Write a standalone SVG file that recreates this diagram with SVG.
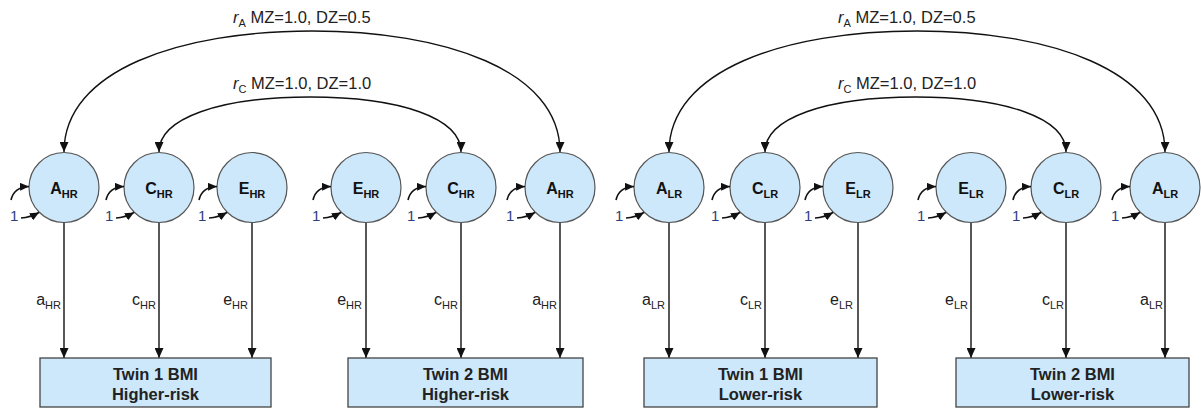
<svg xmlns="http://www.w3.org/2000/svg" width="1201" height="409" viewBox="0 0 1201 409">
<style>
.bg{fill:#ffffff}
.node{fill:#cce8fa;stroke:#555;stroke-width:1.2}
.box{fill:#cce8fa;stroke:#444;stroke-width:1.3}
.nl{font-family:"Liberation Sans",Arial,sans-serif;font-weight:bold;font-size:16px;fill:#111}
.ns{font-size:11px}
.bt{font-family:"Liberation Sans",Arial,sans-serif;font-weight:bold;font-size:16.5px;fill:#222;text-anchor:middle}
.pl{font-family:"Liberation Sans",Arial,sans-serif;font-size:16px;fill:#222;text-anchor:end}
.ps{font-size:11px}
.tl{font-family:"Liberation Sans",Arial,sans-serif;font-size:16.5px;fill:#222}
.one{font-family:"Liberation Sans",Arial,sans-serif;font-size:15px;fill:#2b3f80}
.ln{fill:none;stroke:#111;stroke-width:1.4}
.sa{fill:none;stroke:#111;stroke-width:1.6}
</style>
<defs>
<marker id="arr" markerUnits="userSpaceOnUse" markerWidth="10" markerHeight="9" refX="10" refY="4.5" orient="auto-start-reverse"><path d="M0,0 L10,4.5 L0,9 z" fill="#111"/></marker>
<marker id="sm" markerUnits="userSpaceOnUse" markerWidth="9" markerHeight="8" refX="9" refY="4" orient="auto"><path d="M0,0 L9,4 L0,8 z" fill="#111"/></marker>
</defs>
<rect class="bg" x="0" y="0" width="1201" height="409"/>

<g id="connectors">
<path class="ln" d="M64,152 C64,70 180,31 312,31 C444,31 560,70 560,152" marker-start="url(#arr)" marker-end="url(#arr)"/>
<path class="ln" d="M159,152 C159,118 220,97 310,97 C400,97 461,118 461,152" marker-start="url(#arr)" marker-end="url(#arr)"/>
<path class="ln" d="M669,152 C669,70 785,31 917,31 C1049,31 1165,70 1165,152" marker-start="url(#arr)" marker-end="url(#arr)"/>
<path class="ln" d="M765,152 C765,118 826,97 915.5,97 C1005,97 1066,118 1066,152" marker-start="url(#arr)" marker-end="url(#arr)"/>
<text class="tl" x="233" y="22.5"><tspan font-style="italic">r</tspan><tspan font-size="11px" dy="4">A</tspan><tspan dy="-4"> MZ=1.0, DZ=0.5</tspan></text>
<text class="tl" x="233" y="89"><tspan font-style="italic">r</tspan><tspan font-size="11px" dy="4">C</tspan><tspan dy="-4"> MZ=1.0, DZ=1.0</tspan></text>
<text class="tl" x="838" y="22.5"><tspan font-style="italic">r</tspan><tspan font-size="11px" dy="4">A</tspan><tspan dy="-4"> MZ=1.0, DZ=0.5</tspan></text>
<text class="tl" x="838" y="89"><tspan font-style="italic">r</tspan><tspan font-size="11px" dy="4">C</tspan><tspan dy="-4"> MZ=1.0, DZ=1.0</tspan></text>

<path class="ln" d="M64,222.5 V358" marker-end="url(#arr)"/>
<path class="ln" d="M159,222.5 V358" marker-end="url(#arr)"/>
<path class="ln" d="M252,222.5 V358" marker-end="url(#arr)"/>
<path class="ln" d="M366,222.5 V358" marker-end="url(#arr)"/>
<path class="ln" d="M461,222.5 V358" marker-end="url(#arr)"/>
<path class="ln" d="M560,222.5 V358" marker-end="url(#arr)"/>
<path class="ln" d="M669,222.5 V358" marker-end="url(#arr)"/>
<path class="ln" d="M765,222.5 V358" marker-end="url(#arr)"/>
<path class="ln" d="M858,222.5 V358" marker-end="url(#arr)"/>
<path class="ln" d="M971,222.5 V358" marker-end="url(#arr)"/>
<path class="ln" d="M1066,222.5 V358" marker-end="url(#arr)"/>
<path class="ln" d="M1165,222.5 V358" marker-end="url(#arr)"/>

<text class="pl" x="61" y="305">a<tspan class="ps" dy="4">HR</tspan></text>
<text class="pl" x="156" y="305">c<tspan class="ps" dy="4">HR</tspan></text>
<text class="pl" x="248" y="305">e<tspan class="ps" dy="4">HR</tspan></text>
<text class="pl" x="362" y="305">e<tspan class="ps" dy="4">HR</tspan></text>
<text class="pl" x="458" y="305">c<tspan class="ps" dy="4">HR</tspan></text>
<text class="pl" x="557" y="305">a<tspan class="ps" dy="4">HR</tspan></text>
<text class="pl" x="665" y="305">a<tspan class="ps" dy="4">LR</tspan></text>
<text class="pl" x="762" y="305">c<tspan class="ps" dy="4">LR</tspan></text>
<text class="pl" x="853" y="305">e<tspan class="ps" dy="4">LR</tspan></text>
<text class="pl" x="968" y="305">e<tspan class="ps" dy="4">LR</tspan></text>
<text class="pl" x="1064" y="305">c<tspan class="ps" dy="4">LR</tspan></text>
<text class="pl" x="1163" y="305">a<tspan class="ps" dy="4">LR</tspan></text>
</g>

<g id="A_HR1"><circle class="node" cx="64" cy="187.5" r="35"/><text class="nl" x="64" y="193.5" text-anchor="middle">A<tspan class="ns" dy="4">HR</tspan></text>
<path class="sa" d="M11,200 Q14,187 29,186.5" marker-end="url(#sm)"/><text class="one" x="10" y="221">1</text><path class="sa" d="M21,218 Q30,217.5 39,212.5" marker-end="url(#sm)"/></g>
<g id="C_HR1"><circle class="node" cx="159" cy="187.5" r="35"/><text class="nl" x="159" y="193.5" text-anchor="middle">C<tspan class="ns" dy="4">HR</tspan></text>
<path class="sa" d="M106,200 Q109,187 124,186.5" marker-end="url(#sm)"/><text class="one" x="105" y="221">1</text><path class="sa" d="M116,218 Q125,217.5 134,212.5" marker-end="url(#sm)"/></g>
<g id="E_HR1"><circle class="node" cx="252" cy="187.5" r="35"/><text class="nl" x="252" y="193.5" text-anchor="middle">E<tspan class="ns" dy="4">HR</tspan></text>
<path class="sa" d="M199,200 Q202,187 217,186.5" marker-end="url(#sm)"/><text class="one" x="198" y="221">1</text><path class="sa" d="M209,218 Q218,217.5 227,212.5" marker-end="url(#sm)"/></g>
<g id="E_HR2"><circle class="node" cx="366" cy="187.5" r="35"/><text class="nl" x="366" y="193.5" text-anchor="middle">E<tspan class="ns" dy="4">HR</tspan></text>
<path class="sa" d="M313,200 Q316,187 331,186.5" marker-end="url(#sm)"/><text class="one" x="312" y="221">1</text><path class="sa" d="M323,218 Q332,217.5 341,212.5" marker-end="url(#sm)"/></g>
<g id="C_HR2"><circle class="node" cx="461" cy="187.5" r="35"/><text class="nl" x="461" y="193.5" text-anchor="middle">C<tspan class="ns" dy="4">HR</tspan></text>
<path class="sa" d="M408,200 Q411,187 426,186.5" marker-end="url(#sm)"/><text class="one" x="407" y="221">1</text><path class="sa" d="M418,218 Q427,217.5 436,212.5" marker-end="url(#sm)"/></g>
<g id="A_HR2"><circle class="node" cx="560" cy="187.5" r="35"/><text class="nl" x="560" y="193.5" text-anchor="middle">A<tspan class="ns" dy="4">HR</tspan></text>
<path class="sa" d="M507,200 Q510,187 525,186.5" marker-end="url(#sm)"/><text class="one" x="506" y="221">1</text><path class="sa" d="M517,218 Q526,217.5 535,212.5" marker-end="url(#sm)"/></g>

<g id="A_LR1"><circle class="node" cx="669" cy="187.5" r="35"/><text class="nl" x="669" y="193.5" text-anchor="middle">A<tspan class="ns" dy="4">LR</tspan></text>
<path class="sa" d="M616,200 Q619,187 634,186.5" marker-end="url(#sm)"/><text class="one" x="615" y="221">1</text><path class="sa" d="M626,218 Q635,217.5 644,212.5" marker-end="url(#sm)"/></g>
<g id="C_LR1"><circle class="node" cx="765" cy="187.5" r="35"/><text class="nl" x="765" y="193.5" text-anchor="middle">C<tspan class="ns" dy="4">LR</tspan></text>
<path class="sa" d="M712,200 Q715,187 730,186.5" marker-end="url(#sm)"/><text class="one" x="711" y="221">1</text><path class="sa" d="M722,218 Q731,217.5 740,212.5" marker-end="url(#sm)"/></g>
<g id="E_LR1"><circle class="node" cx="858" cy="187.5" r="35"/><text class="nl" x="858" y="193.5" text-anchor="middle">E<tspan class="ns" dy="4">LR</tspan></text>
<path class="sa" d="M805,200 Q808,187 823,186.5" marker-end="url(#sm)"/><text class="one" x="804" y="221">1</text><path class="sa" d="M815,218 Q824,217.5 833,212.5" marker-end="url(#sm)"/></g>
<g id="E_LR2"><circle class="node" cx="971" cy="187.5" r="35"/><text class="nl" x="971" y="193.5" text-anchor="middle">E<tspan class="ns" dy="4">LR</tspan></text>
<path class="sa" d="M918,200 Q921,187 936,186.5" marker-end="url(#sm)"/><text class="one" x="917" y="221">1</text><path class="sa" d="M928,218 Q937,217.5 946,212.5" marker-end="url(#sm)"/></g>
<g id="C_LR2"><circle class="node" cx="1066" cy="187.5" r="35"/><text class="nl" x="1066" y="193.5" text-anchor="middle">C<tspan class="ns" dy="4">LR</tspan></text>
<path class="sa" d="M1013,200 Q1016,187 1031,186.5" marker-end="url(#sm)"/><text class="one" x="1012" y="221">1</text><path class="sa" d="M1023,218 Q1032,217.5 1041,212.5" marker-end="url(#sm)"/></g>
<g id="A_LR2"><circle class="node" cx="1165" cy="187.5" r="35"/><text class="nl" x="1165" y="193.5" text-anchor="middle">A<tspan class="ns" dy="4">LR</tspan></text>
<path class="sa" d="M1112,200 Q1115,187 1130,186.5" marker-end="url(#sm)"/><text class="one" x="1111" y="221">1</text><path class="sa" d="M1122,218 Q1131,217.5 1140,212.5" marker-end="url(#sm)"/></g>

<g id="Twin1_HR"><rect class="box" x="40" y="358" width="231" height="49"/><text class="bt" x="155.5" y="380">Twin 1 BMI</text><text class="bt" x="155.5" y="400">Higher-risk</text></g>
<g id="Twin2_HR"><rect class="box" x="348" y="358" width="235" height="49"/><text class="bt" x="465.5" y="380">Twin 2 BMI</text><text class="bt" x="465.5" y="400">Higher-risk</text></g>
<g id="Twin1_LR"><rect class="box" x="644" y="358" width="233" height="49"/><text class="bt" x="760.5" y="380">Twin 1 BMI</text><text class="bt" x="760.5" y="400">Lower-risk</text></g>
<g id="Twin2_LR"><rect class="box" x="956" y="358" width="233" height="49"/><text class="bt" x="1072.5" y="380">Twin 2 BMI</text><text class="bt" x="1072.5" y="400">Lower-risk</text></g>
</svg>
